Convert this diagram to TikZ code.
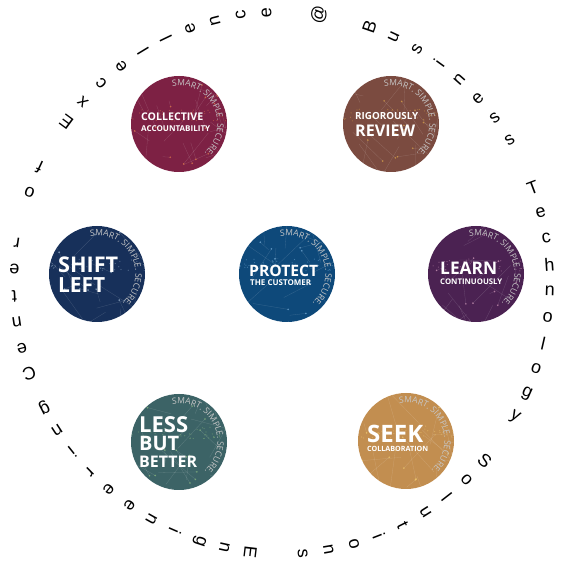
\documentclass[tikz,border=0pt]{standalone}
\usepackage{fontspec}
\usepackage{graphicx}
\setmainfont{Open Sans}
\newfontfamily\ringfont{Liberation Sans}
\usetikzlibrary{calc,decorations.text}
\definecolor{cmaroon}{HTML}{7D2144}
\definecolor{cbrown}{HTML}{7B4B40}
\definecolor{cnavy}{HTML}{17305A}
\definecolor{cblue}{HTML}{0E497A}
\definecolor{cpurple}{HTML}{4B2252}
\definecolor{cteal}{HTML}{3C6366}
\definecolor{ctan}{HTML}{C28E50}
\definecolor{gmaroon}{HTML}{E8804A}
\definecolor{gbrown}{HTML}{E0A848}
\definecolor{gnavy}{HTML}{9FB8D0}
\definecolor{gblue}{HTML}{7FB6E0}
\definecolor{gpurple}{HTML}{D9A0C0}
\definecolor{gteal}{HTML}{8FC080}
\definecolor{gtan}{HTML}{F5D070}
\tikzset{
  badge/.style={circle, fill=#1, minimum size=96pt, inner sep=0pt},
  ringchar/.style={font=\ringfont\fontsize{18}{18}\selectfont, inner sep=0pt, text=black},
  lbl/.style={anchor=west, inner sep=0pt, text=white, font=\bfseries},
  netline/.style={white, opacity=0.17, line width=0.3pt},
}
\newcommand\fitw[2]{\resizebox{#1pt}{!}{#2}}
\newcommand\netbg[3]{%
\begin{scope}
\clip (#1) circle (48);
\pgfmathsetseed{#3}
\foreach \k in {1,...,26}{%
  \pgfmathsetmacro\ax{rand*48}\pgfmathsetmacro\ay{rand*48}%
  \pgfmathsetmacro\bx{\ax+rand*40}\pgfmathsetmacro\by{\ay+rand*40}%
  \draw[netline] ($(#1)+(\ax,\ay)$) -- ($(#1)+(\bx,\by)$);
  \fill[#2, opacity=0.7] ($(#1)+(\bx,\by)$) circle (0.9);
}
\foreach \k in {1,...,45}{%
  \pgfmathsetmacro\ax{rand*48}\pgfmathsetmacro\ay{9+rand*6}%
  \fill[#2, opacity=0.45] ($(#1)+(\ax,\ay)$) circle (0.6);
}
\end{scope}}
\newcommand\tagline[1]{%
\path[decorate, decoration={text along path, text align=left,
  text={|\color{white!78!black}\fontsize{8.6}{9}\selectfont|SMART. SIMPLE. SECURE.}}]
  ($(#1)+(100:38.5)$) arc[start angle=100, end angle=-70, radius=38.5];}
\begin{document}
\begin{tikzpicture}[x=1pt,y=1pt]
\useasboundingbox (0,0) rectangle (567,570);
\fill[white] (0,0) rectangle (567,570);
% badges
\node[badge=cmaroon] (coll) at (179,446) {};
\node[badge=cbrown] (rig) at (391,446) {};
\node[badge=cnavy] (shift) at (97,296) {};
\node[badge=cblue] (prot) at (287,296) {};
\node[badge=cpurple] (learn) at (476,296) {};
\node[badge=cteal] (less) at (179,128) {};
\node[badge=ctan] (seek) at (406,129) {};
\netbg{coll}{gmaroon}{11}
\netbg{rig}{gbrown}{12}
\netbg{shift}{gnavy}{13}
\netbg{prot}{gblue}{14}
\netbg{learn}{gpurple}{15}
\netbg{less}{gteal}{16}
\netbg{seek}{gtan}{17}
\tagline{coll}\tagline{rig}\tagline{shift}\tagline{prot}\tagline{learn}\tagline{less}\tagline{seek}
% labels
\node[lbl] (collA) at (141,453) {\fitw{62}{COLLECTIVE}};
\node[lbl] (collB) at (141,441) {\fitw{69}{ACCOUNTABILITY}};
\node[lbl] (rigA) at (355,454) {\fitw{63}{RIGOROUSLY}};
\node[lbl] (rigB) at (355,439) {\fitw{60}{REVIEW}};
\node[lbl] (shiftA) at (58,305) {\fitw{60}{SHIFT}};
\node[lbl] (shiftB) at (58,285) {\fitw{47}{LEFT}};
\node[lbl] (protA) at (249,299) {\fitw{69}{PROTECT}};
\node[lbl] (protB) at (250,287) {\fitw{61}{THE CUSTOMER}};
\node[lbl] (learnA) at (440,302) {\fitw{57}{LEARN}};
\node[lbl] (learnB) at (440,288) {\fitw{62}{CONTINUOUSLY}};
\node[lbl] (lessA) at (139,145) {\fitw{49}{LESS}};
\node[lbl] (lessB) at (139,127) {\fitw{40}{BUT}};
\node[lbl] (lessC) at (139,108) {\fitw{58}{BETTER}};
\node[lbl] (seekA) at (367,136) {\fitw{56}{SEEK}};
\node[lbl] (seekB) at (367,121) {\fitw{61}{COLLABORATION}};
% ring text
\foreach \ch [count=\i from 0] in {C,e,n,t,e,r,{},o,f,{},E,x,c,e,l,l,e,n,c,e,{},@,{},B,u,s,i,n,e,s,s,{},T,e,c,h,n,o,l,o,g,y,{},S,o,l,u,t,i,o,n,s,{},E,n,g,i,n,e,e,r,i,n,g}{%
  \pgfmathsetmacro\t{199.5-5.59*\i}%
  \node[ringchar, rotate=\t] (r\i) at ({282+268*cos(\t)},{287+271*sin(\t)}) {\ch};
}
\end{tikzpicture}
\end{document}
